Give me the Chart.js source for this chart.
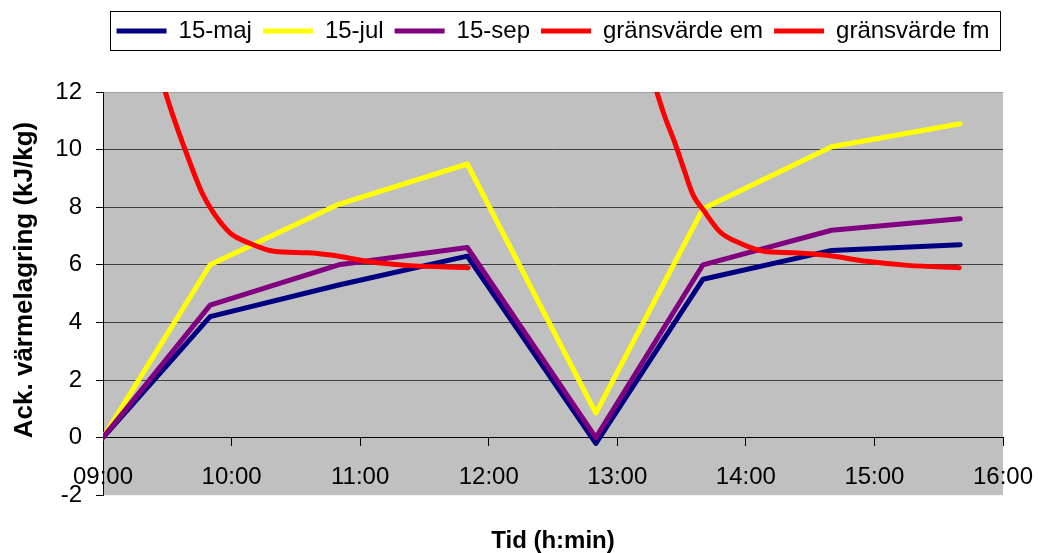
<!DOCTYPE html>
<html>
<head>
<meta charset="utf-8">
<script src="https://cdn.jsdelivr.net/npm/chart.js@4.4.1/dist/chart.umd.min.js"></script>
<style>
    html, body { margin: 0; padding: 0; background: #fff; }
    #wrap { width: 1038px; height: 553px; }
</style>
</head>
<body>
<div id="wrap"><canvas id="heat_chart" width="1038" height="553"></canvas></div>
<script>
// measuring times for the three days
let times = ['09:00', '09:50', '10:50', '11:50', '12:50', '13:40', '14:40', '15:40'];
let maj = [0, 4.2, 5.3, 6.3, -0.2, 5.5, 6.5, 6.7];
let jul = [0, 6.0, 8.1, 9.5, 0.85, 7.95, 10.1, 10.9];
let sep = [0, 4.6, 6.0, 6.6, 0.0, 6.0, 7.2, 7.6];

// limit curves, time in decimal hours
let fmTime = [9.47, 9.55, 9.63, 9.77, 9.86, 9.99, 10.14, 10.33, 10.59, 10.79, 11.05, 11.36, 11.84];
let fmValue = [12.2, 11.1, 10.1, 8.5, 7.8, 7.1, 6.75, 6.47, 6.42, 6.33, 6.12, 5.98, 5.9];
let emTime = [13.30, 13.37, 13.45, 13.52, 13.59, 13.67, 13.80, 13.96, 14.14, 14.37, 14.63, 14.94, 15.26, 15.66];
let emValue = [12.1, 11.14, 10.21, 9.29, 8.42, 7.9, 7.14, 6.74, 6.47, 6.42, 6.33, 6.12, 5.98, 5.9];

let xTickLabels = ['09:00', '10:00', '11:00', '12:00', '13:00', '14:00', '15:00', '16:00'];
let yTitle = 'Ack. värmelagring (kJ/kg)';

Chart.defaults.font.family = "'Liberation Sans', Arial, sans-serif";
Chart.defaults.color = '#000';

function toHours(s) {
    let [h, m] = s.split(':').map(Number);
    return h + m / 60;
}

function pairs(xs, ys) {
    return xs.map((x, i) => ({ x: x, y: ys[i] }));
}

let baseLine = {
    borderWidth: 5,
    pointRadius: 0,
    pointHoverRadius: 0,
    borderJoinStyle: 'round',
    borderCapStyle: 'round',
    fill: false,
    clip: 0
}

let hours = times.map(toHours);

let datasets = [
    Object.assign({}, baseLine, { label: '15-maj', borderColor: '#000080', backgroundColor: '#000080', data: pairs(hours, maj), order: 5 }),
    Object.assign({}, baseLine, { label: '15-jul', borderColor: '#ffff00', backgroundColor: '#ffff00', data: pairs(hours, jul), order: 4 }),
    Object.assign({}, baseLine, { label: '15-sep', borderColor: '#800080', backgroundColor: '#800080', data: pairs(hours, sep), order: 3 }),
    Object.assign({}, baseLine, { label: 'gränsvärde em', borderColor: '#ff0000', backgroundColor: '#ff0000', data: pairs(emTime, emValue), cubicInterpolationMode: 'monotone', order: 2 }),
    Object.assign({}, baseLine, { label: 'gränsvärde fm', borderColor: '#ff0000', backgroundColor: '#ff0000', data: pairs(fmTime, fmValue), cubicInterpolationMode: 'monotone', order: 1 }),
];

//- grey plot background + y axis title -
let plotBackground = {
    id: 'plotBackground',
    beforeDraw(chart) {
        let { ctx, chartArea: a } = chart;
        ctx.save();
        ctx.fillStyle = '#c0c0c0';
        ctx.fillRect(a.left, a.top, a.right - a.left, a.bottom - a.top);
        ctx.restore();
    },
    afterDraw(chart) {
        let ctx = chart.ctx;
        ctx.save();
        ctx.translate(25, 280);
        ctx.rotate(-Math.PI / 2);
        ctx.font = "bold 26px 'Liberation Sans', Arial, sans-serif";
        ctx.fillStyle = '#000';
        ctx.textAlign = 'center';
        ctx.textBaseline = 'middle';
        ctx.fillText(yTitle, 0, 0);
        ctx.restore();
    }
}

//- legend centred over the plot, with a frame -
let legendFrame = {
    id: 'legendFrame',
    afterLayout(chart) {
        let lg = chart.legend;
        lg.left = chart.chartArea.left;
        lg.right = chart.chartArea.right;
        lg.top = 8;
        lg.bottom = 8 + lg.height;
    },
    afterDraw(chart) {
        let boxes = chart.legend.legendHitBoxes;
        if (!boxes || !boxes.length) return;
        let left = Math.min(...boxes.map(b => b.left)) - 7;
        let right = Math.max(...boxes.map(b => b.left + b.width)) + 10;
        let top = boxes[0].top - 8;
        let bottom = boxes[0].top + boxes[0].height + 7;
        let ctx = chart.ctx;
        ctx.save();
        ctx.strokeStyle = '#000';
        ctx.lineWidth = 1;
        ctx.strokeRect(Math.round(left) + 0.5, Math.round(top) + 0.5, Math.round(right - left), Math.round(bottom - top));
        ctx.restore();
    }
}

new Chart(document.getElementById('heat_chart').getContext('2d'), {
    type: 'line',
    data: { datasets: datasets },
    options: {
        responsive: false,
        animation: false,
        devicePixelRatio: 1,
        layout: { padding: { top: 0, right: 35, bottom: 0, left: 0 } },
        plugins: {
            tooltip: { enabled: false },
            legend: {
                position: 'top',
                labels: {
                    font: { size: 24 },
                    color: '#000',
                    boxWidth: 50,
                    boxHeight: 5,
                    padding: 11,
                    generateLabels: (chart) => chart.data.datasets.map((ds, i) => ({
                        text: ds.label,
                        fillStyle: ds.borderColor,
                        strokeStyle: ds.borderColor,
                        lineWidth: 0,
                        fontColor: '#000',
                        hidden: false,
                        datasetIndex: i
                    }))
                }
            }
        },
        scales: {
            x: {
                type: 'linear',
                position: { y: 0 },
                min: 9,
                max: 16,
                grid: { drawOnChartArea: false, drawTicks: true, tickLength: 8, color: '#000', tickColor: '#000' },
                border: { color: '#000', width: 1 },
                ticks: {
                    stepSize: 1,
                    padding: 17,
                    autoSkip: false,
                    maxRotation: 0,
                    font: { size: 24 },
                    color: '#000',
                    callback: (v, i) => xTickLabels[i]
                },
                afterFit: (scale) => {
                    scale.paddingLeft = 0;
                    scale.paddingRight = 0;
                }
            },
            x2: {
                type: 'linear',
                axis: 'x',
                position: 'bottom',
                grid: { display: false, drawTicks: false },
                border: { display: false },
                ticks: { display: false },
                title: {
                    display: true,
                    text: 'Tid (h:min)',
                    color: '#000',
                    font: { size: 24, weight: 'bold' },
                    padding: { top: 32, bottom: -3 }
                }
            },
            y: {
                type: 'linear',
                min: -2,
                max: 12,
                ticks: { stepSize: 2, padding: 14, font: { size: 24 }, color: '#000' },
                grid: {
                    color: (c) => {
                        let v = c.tick ? c.tick.value : null;
                        if (v === -2) return 'rgba(0,0,0,0)';
                        if (v === 12) return '#a0a0a0';
                        if (v === 0) return '#000';
                        return '#404040';
                    },
                    tickColor: '#000',
                    tickLength: 7
                },
                border: { color: '#000', width: 1 },
                afterFit: (scale) => {
                    scale.width = 103;
                    scale.paddingTop = 92;
                }
            }
        }
    },
    plugins: [plotBackground, legendFrame]
})
</script>
</body>
</html>
